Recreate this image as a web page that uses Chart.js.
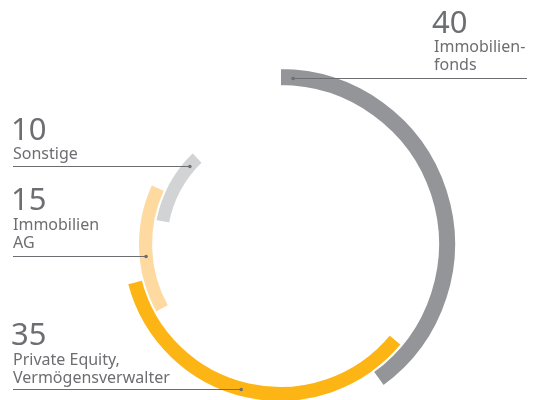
<!DOCTYPE html>
<html>
<head>
<meta charset="utf-8">
<script src="https://cdn.jsdelivr.net/npm/chart.js@4/dist/chart.umd.min.js"></script>
<style>
  body { margin: 0; background: #fff; }
  .chart-container { position: relative; width: 537px; height: 400px; }
</style>
</head>
<body>
<div class="chart-container"><canvas id="chart-1"></canvas></div>
<script>
const categories = ['Immobilienfonds', 'Private Equity, Vermögensverwalter', 'Immobilien AG', 'Sonstige'];
const shares = [40, 35, 15, 10];
const labelLines = [['Immobilien-', 'fonds'], ['Private Equity,', 'Vermögensverwalter'], ['Immobilien', 'AG'], ['Sonstige']];

const colors = ['#939598', '#fdb515', '#fed9a0', '#d1d3d4'];
const ringWeights = [18, 16, 15, 15];
const textColor = '#6d6e71';

// each ring starts a little before the previous one ends
const overlap = 14.5;
let running = 0;
const startAngles = shares.map((share, i) => {
  const start = running * 3.6 - overlap * i;
  running += share;
  return start;
});

// where the number, text and leader line of each ring sit
const labelLayouts = [
  { x: 434, valueY: 33, textY: [52, 70], angle: 4.5, lineEnd: 527 },
  { x: 13, valueY: 345, textY: [365, 383], angle: 195, lineEnd: 13 },
  { x: 13, valueY: 210, textY: [230, 248], angle: 265, lineEnd: 13 },
  { x: 13, valueY: 140, textY: [159], angle: 311, lineEnd: 13 },
];

const arcLabels = {
  id: 'arcLabels',
  afterDatasetsDraw(chart) {
    const ctx = chart.ctx;
    ctx.save();
    labelLayouts.forEach((layout, i) => {
      const arc = chart.getDatasetMeta(i).data[0];
      const r = (arc.innerRadius + arc.outerRadius) / 2;
      const a = ((layout.angle - 90) * Math.PI) / 180;
      const dotX = arc.x + r * Math.cos(a);
      const dotY = Math.round(arc.y + r * Math.sin(a)) + 0.5;

      ctx.strokeStyle = textColor;
      ctx.lineWidth = 1;
      ctx.beginPath();
      ctx.moveTo(layout.lineEnd, dotY);
      ctx.lineTo(dotX, dotY);
      ctx.stroke();
      ctx.fillStyle = textColor;
      ctx.beginPath();
      ctx.arc(dotX, dotY, 1.8, 0, Math.PI * 2);
      ctx.fill();

      ctx.textAlign = 'left';
      ctx.textBaseline = 'alphabetic';
      ctx.font = '31px "Noto Sans"';
      ctx.fillText(String(shares[i]), layout.x - 2, layout.valueY);
      ctx.font = '16px "Noto Sans"';
      labelLines[i].forEach((line, j) => {
        ctx.fillText(line, layout.x, layout.textY[j]);
      });
    });
    ctx.restore();
  },
};

new Chart(document.getElementById('chart-1'), {
  type: 'doughnut',
  data: {
    labels: ['', ''],
    datasets: shares.map((share, i) => ({
      label: categories[i],
      data: [share, 100 - share],
      backgroundColor: [colors[i], 'rgba(0,0,0,0)'],
      borderColor: ['#ffffff', 'rgba(0,0,0,0)'],
      borderWidth: [2, 0],
      rotation: startAngles[i],
      weight: ringWeights[i],
      clip: false,
    })),
  },
  options: {
    responsive: true,
    maintainAspectRatio: false,
    animation: false,
    events: [],
    radius: 176,
    cutout: '63.6%',
    layout: { padding: { left: 23, right: 0, top: 88, bottom: 0 } },
    plugins: {
      legend: { display: false },
      tooltip: { enabled: false },
    },
  },
  plugins: [arcLabels],
});
</script>
</body>
</html>
